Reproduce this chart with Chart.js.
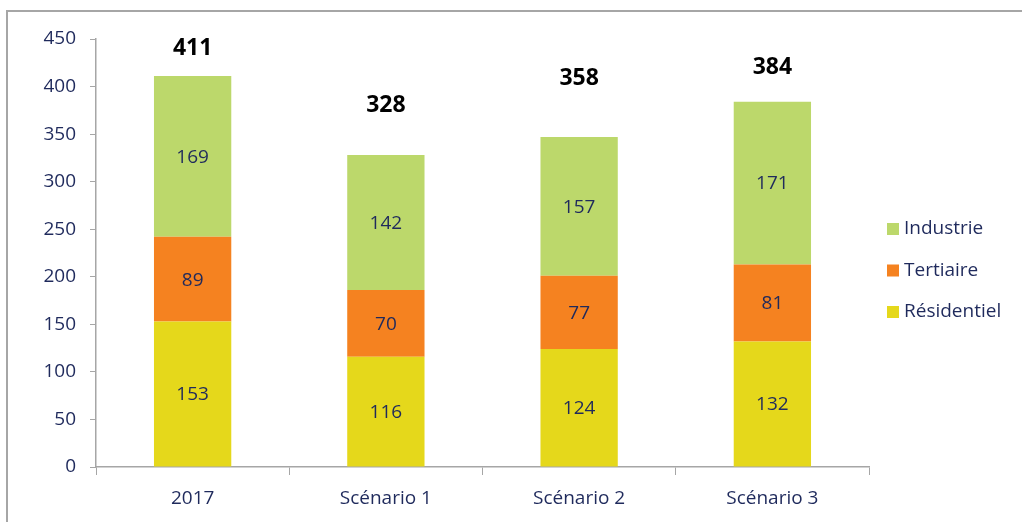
<!DOCTYPE html>
<html>
<head>
<meta charset="utf-8">
<script src="https://cdn.jsdelivr.net/npm/chart.js@4.4.1/dist/chart.umd.min.js"></script>
<style>
  html, body { margin: 0; padding: 0; background: #fff; overflow: hidden; }
  #wrap { width: 1022px; height: 522px; }
</style>
</head>
<body>
<div id="wrap"><canvas id="myChart" width="1022" height="522"></canvas></div>
<script>
var categories = ['2017', 'Scénario 1', 'Scénario 2', 'Scénario 3'];
var residentiel = [153, 116, 124, 132];
var tertiaire = [89, 70, 77, 81];
var industrie = [169, 142, 146, 171];
// numbers printed on the chart (the Scénario 2 bar is drawn shorter than its label says)
var residentielLabels = ['153', '116', '124', '132'];
var tertiaireLabels = ['89', '70', '77', '81'];
var industrieLabels = ['169', '142', '157', '171'];
var totals = ['411', '328', '358', '384'];
var yTicks = [0, 50, 100, 150, 200, 250, 300, 350, 400, 450];

var navy = '#1f2a5c';
var fontFamily = '"Open Sans", sans-serif';

// how high each total sits above its bar (px), as placed in the original
var totalLift = [28, 50, 59, 34];

var framePlugin = {
    id: 'frame',
    beforeDraw: function (chart) {
        var ctx = chart.ctx;
        ctx.save();
        ctx.fillStyle = '#fff';
        ctx.fillRect(0, 0, chart.width, chart.height);
        ctx.strokeStyle = '#a6a6a6';
        ctx.lineWidth = 2;
        ctx.strokeRect(7, 11, chart.width + 20, chart.height + 20);
        ctx.restore();
    }
};

var labelsPlugin = {
    id: 'valueLabels',
    afterDatasetsDraw: function (chart) {
        var ctx = chart.ctx;
        ctx.save();
        ctx.textAlign = 'center';
        ctx.textBaseline = 'middle';
        ctx.font = '19px ' + fontFamily;
        ctx.fillStyle = navy;
        chart.data.datasets.forEach(function (ds, i) {
            var meta = chart.getDatasetMeta(i);
            meta.data.forEach(function (bar, j) {
                var y = (bar.y + bar.base) / 2;
                ctx.fillText(ds.printed[j], bar.x, y + 1);
            });
        });
        // totals above the stacks
        var top = chart.getDatasetMeta(chart.data.datasets.length - 1);
        ctx.font = 'bold 23px ' + fontFamily;
        ctx.fillStyle = '#000';
        top.data.forEach(function (bar, j) {
            ctx.fillText(totals[j], bar.x, bar.y - totalLift[j]);
        });
        ctx.restore();
    }
};

var legendPlugin = {
    id: 'sideLegend',
    afterDraw: function (chart) {
        var ctx = chart.ctx;
        var area = chart.chartArea;
        var x = area.right + 18;
        var y = area.top + 190;
        ctx.save();
        ctx.font = '19px ' + fontFamily;
        ctx.textBaseline = 'middle';
        ctx.textAlign = 'left';
        var list = chart.data.datasets.slice().reverse();
        list.forEach(function (ds, k) {
            var cy = y + k * 41.5;
            ctx.fillStyle = ds.backgroundColor;
            ctx.fillRect(x, cy - 6, 12, 12);
            ctx.fillStyle = navy;
            ctx.fillText(ds.label, x + 17, cy);
        });
        ctx.restore();
    }
};

var ctx = document.getElementById('myChart').getContext('2d');

var myChart = new Chart(ctx, {
    type: 'bar',
    data: {
        labels: categories,
        datasets: [
            { label: 'Résidentiel', data: residentiel, printed: residentielLabels, backgroundColor: '#e5d81b' },
            { label: 'Tertiaire', data: tertiaire, printed: tertiaireLabels, backgroundColor: '#f58220' },
            { label: 'Industrie', data: industrie, printed: industrieLabels, backgroundColor: '#bcd86b' }
        ]
    },
    options: {
        responsive: false,
        animation: false,
        layout: {
            padding: { left: 0, right: 153, top: 39, bottom: 0 }
        },
        barPercentage: 0.4,
        categoryPercentage: 1.0,
        plugins: {
            legend: { display: false },
            tooltip: { enabled: false }
        },
        scales: {
            x: {
                stacked: true,
                grid: {
                    display: true,
                    drawOnChartArea: false,
                    offset: true,
                    tickLength: 8,
                    color: '#a6a6a6'
                },
                border: { color: '#a6a6a6', width: 1.5 },
                ticks: {
                    color: navy,
                    font: { family: fontFamily, size: 19 },
                    padding: 12
                },
                afterFit: function (s) { s.height = 55; }
            },
            y: {
                stacked: true,
                min: 0,
                max: 450,
                afterBuildTicks: function (s) {
                    s.ticks = yTicks.map(function (v) { return { value: v }; });
                },
                grid: {
                    display: true,
                    drawOnChartArea: false,
                    tickLength: 6,
                    color: '#a6a6a6'
                },
                border: { color: '#a6a6a6', width: 1.5 },
                ticks: {
                    color: navy,
                    font: { family: fontFamily, size: 19 },
                    padding: 14
                },
                afterFit: function (s) { s.width = 96; }
            }
        }
    },
    plugins: [framePlugin, labelsPlugin, legendPlugin]
});
</script>
</body>
</html>
